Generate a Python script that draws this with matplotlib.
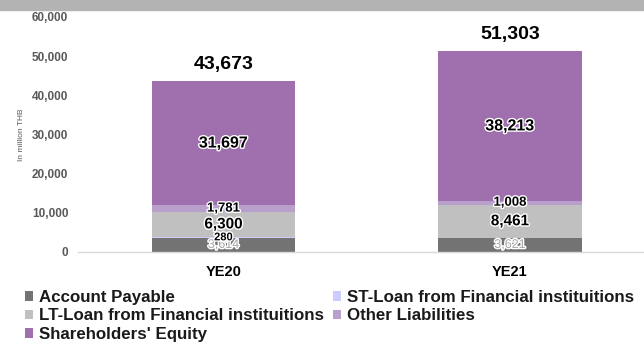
import matplotlib
matplotlib.use("Agg")
import matplotlib.pyplot as plt
import matplotlib.patheffects as pe
from matplotlib.patches import Rectangle, Patch

plt.rcParams['font.family'] = ['Liberation Sans', 'DejaVu Sans']

categories = ["YE20", "YE21"]
series_names = ["Account Payable", "ST-Loan from Financial instituitions",
                "LT-Loan from Financial instituitions", "Other Liabilities",
                "Shareholders' Equity"]
account_payable = [3614, 3621]
st_loan = [280, 0]
lt_loan = [6300, 8461]
other_liab = [1781, 1008]
equity = [31697, 38213]
totals = [43673, 51303]
yticks = [0, 10000, 20000, 30000, 40000, 50000, 60000]

colors = ["#737373", "#ccccff", "#c0c0c0", "#b9a0cc", "#9f6fae"]
series = [account_payable, st_loan, lt_loan, other_liab, equity]
# label styles per series: (fontsize, color, weight)
label_styles = [(9, "#a6a6a6", "normal"), (8, "#000000", "bold"),
                (11, "#000000", "bold"), (9.5, "#000000", "bold"),
                (11.5, "#000000", "bold")]

fig = plt.figure(figsize=(6.44, 3.42), dpi=100)
fig.patches.append(Rectangle((0, 1 - 10/342), 1, 10/342, transform=fig.transFigure,
                             color="#b3b3b3", zorder=0))
ax = fig.add_axes([78/644, 1 - 252/342, 566/644, 235/342])

x = list(range(len(categories)))
bottoms = [0] * len(categories)
handles = []
for vals, col, name, st in zip(series, colors, series_names, label_styles):
    ax.bar(x, vals, width=0.5, bottom=bottoms, color=col, edgecolor='none', zorder=2)
    handles.append(Patch(facecolor=col, label=name))
    for i, v in enumerate(vals):
        if v > 0:
            t = ax.text(x[i], bottoms[i] + v / 2, f"{v:,}", ha='center', va='center',
                        fontsize=st[0], color=st[1], fontweight=st[2], zorder=3)
            t.set_path_effects([pe.withStroke(linewidth=2, foreground='white')])
    bottoms = [b + v for b, v in zip(bottoms, vals)]

for i, tot in enumerate(totals):
    ax.annotate(f"{tot:,}", (x[i], tot), xytext=(0, 6), textcoords='offset points',
                ha='center', va='bottom', fontsize=14, fontweight='bold', color='black')

ax.set_ylim(0, 60000)
ax.set_xlim(-0.508, 1.468)
ax.set_yticks(yticks)
ax.set_yticklabels([f"{v:,}" for v in yticks], fontsize=8.5, fontweight='bold', color='#595959')
ax.set_xticks(x)
ax.set_xticklabels(categories, fontsize=10.5, fontweight='bold', color='black')
ax.tick_params(axis='y', length=0, pad=7)
ax.tick_params(axis='x', length=0, pad=9)
for s in ['top', 'right', 'left']:
    ax.spines[s].set_visible(False)
ax.spines['bottom'].set_color('#d9d9d9')
ax.spines['bottom'].set_linewidth(1)
ax.set_ylabel("In million THB", fontsize=6, color='#595959', labelpad=5)

order = [0, 2, 4, 1, 3]
leg = fig.legend([handles[i] for i in order], [series_names[i] for i in order],
                 ncol=2, loc='upper left', bbox_to_anchor=(25/644, 1 - 290/342),
                 frameon=False, fontsize=12.2, handlelength=0.5, handleheight=0.5,
                 handletextpad=0.35, columnspacing=0.5, labelspacing=0.2,
                 borderaxespad=0, borderpad=0)
for t in leg.get_texts():
    t.set_fontweight('bold')
    t.set_color('#1a1a1a')

fig.savefig("out.png", dpi=100)
